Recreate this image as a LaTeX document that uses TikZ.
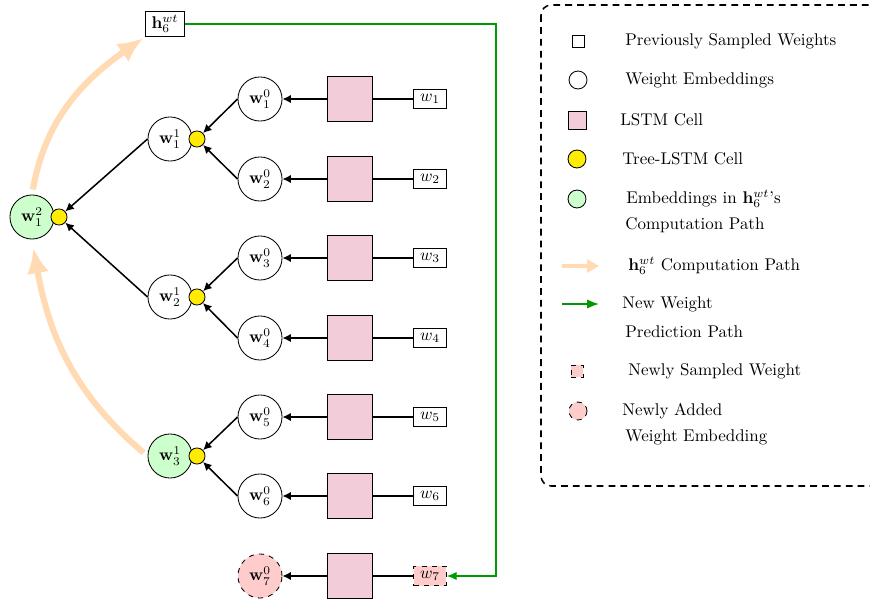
\documentclass[tikz,border=0pt]{standalone}
\usepackage{amsmath}
\usetikzlibrary{arrows.meta}
\definecolor{cPeach}{RGB}{255,218,179}
\definecolor{cLstm}{RGB}{242,204,217}
\definecolor{cEmb}{RGB}{204,255,204}
\definecolor{cNew}{RGB}{255,204,204}
\definecolor{cTree}{RGB}{255,236,0}
\definecolor{cPath}{RGB}{0,153,0}
\begin{document}
\begin{tikzpicture}[x=0.59pt,y=0.59pt,
  embnode/.style={circle,draw,line width=0.5pt,minimum size=26pt,inner sep=0pt},
  treenode/.style={circle,draw,line width=0.5pt,fill=cTree,minimum size=9.5pt,inner sep=0pt},
  lstmnode/.style={rectangle,draw,line width=0.5pt,fill=cLstm,minimum size=26.5pt,inner sep=0pt},
  wbox/.style={rectangle,draw,line width=0.5pt,minimum width=19pt,minimum height=11.5pt,inner sep=0pt},
  edge/.style={draw,line width=0.9pt,-{Latex[length=5pt,width=5pt]}},
  plain/.style={draw,line width=0.9pt},
  opath/.style={draw=cPeach,line width=3.6pt,-{Latex[length=15pt,width=13pt]}},
  gpath/.style={draw=cPath,line width=1pt,-{Latex[length=6pt,width=5pt]}},
  legtext/.style={anchor=west,inner sep=0pt,font=\normalsize},
  legbox/.style={draw,line width=0.9pt,dash pattern=on 4pt off 3pt,rounded corners=6pt}
]
\useasboundingbox (0,0) rectangle (870,-602);

% top output box
\node[rectangle,draw,line width=0.5pt,minimum width=23.5pt,minimum height=15pt,inner sep=1pt] (h) at (165,-24) {$\mathbf{h}_6^{wt}$};

% level 0 rows
\foreach \i/\y in {1/99,2/179,3/258,4/338,5/417,6/496}{
  \node[embnode] (e\i) at (260,-\y) {$\mathbf{w}_{\i}^{0}$};
  \node[lstmnode] (l\i) at (350,-\y) {};
  \node[wbox] (x\i) at (430,-\y) {$w_{\i}$};
  \draw[plain] (x\i) -- (l\i);
  \draw[edge] (l\i) -- (e\i);
}
\node[embnode,fill=cNew,dashed] (e7) at (260,-576) {$\mathbf{w}_{7}^{0}$};
\node[lstmnode] (l7) at (350,-576) {};
\node[wbox,fill=cNew,dashed] (x7) at (430,-576) {$w_{7}$};
\draw[plain] (x7) -- (l7);
\draw[edge] (l7) -- (e7);

% level 1
\node[embnode] (a1) at (170,-139) {$\mathbf{w}_{1}^{1}$};
\node[treenode] (ta1) at (197,-139) {};
\node[embnode] (a2) at (170,-297) {$\mathbf{w}_{2}^{1}$};
\node[treenode] (ta2) at (197,-297) {};
\node[embnode,fill=cEmb] (a3) at (170,-456) {$\mathbf{w}_{3}^{1}$};
\node[treenode] (ta3) at (197,-456) {};

% level 2
\node[embnode,fill=cEmb] (b1) at (32,-217) {$\mathbf{w}_{1}^{2}$};
\node[treenode] (tb1) at (59,-217) {};

\draw[edge] (e1.west) -- (ta1);
\draw[edge] (e2.west) -- (ta1);
\draw[edge] (e3.west) -- (ta2);
\draw[edge] (e4.west) -- (ta2);
\draw[edge] (e5.west) -- (ta3);
\draw[edge] (e6.west) -- (ta3);
\draw[edge] (a1.west) -- (tb1);
\draw[edge] (a2.west) -- (tb1);

% computation path arcs
\draw[opath,shorten <=3pt,shorten >=1pt] (b1.north) to[out=80,in=215] (h.south west);
\draw[opath,shorten <=3pt,shorten >=5pt] (a3.west) to[out=140,in=280] (b1.south);

% new weight prediction path
\coordinate (gd) at (496,-576);
\draw[gpath] (h.east) -| (gd) -- (x7.east);

% legend
\draw[legbox] (541,-5) rectangle (900,-486);
\node[rectangle,draw,line width=0.5pt,minimum size=7pt,inner sep=0pt] (k1) at (578,-41) {};
\node[legtext] (k1t) at (625,-41) {Previously Sampled Weights};
\node[circle,draw,line width=0.5pt,minimum size=10.6pt,inner sep=0pt] (k2) at (578,-80) {};
\node[legtext] (k2t) at (625,-80) {Weight Embeddings};
\node[rectangle,draw,line width=0.5pt,fill=cLstm,minimum size=10.6pt,inner sep=0pt] (k3) at (577,-120) {};
\node[legtext] (k3t) at (620,-120) {LSTM Cell};
\node[circle,draw,line width=0.5pt,fill=cTree,minimum size=10.6pt,inner sep=0pt] (k4) at (577,-159) {};
\node[legtext] (k4t) at (622,-159) {Tree-LSTM Cell};
\node[circle,draw,line width=0.5pt,fill=cEmb,minimum size=10.6pt,inner sep=0pt] (k5) at (577,-199) {};
\node[legtext] (k5t) at (626,-199) {Embeddings in $\mathbf{h}_6^{wt}$'s};
\node[legtext] (k5u) at (625,-225) {Computation Path};
\coordinate (k6a) at (562,-266);
\coordinate (k6b) at (599,-266);
\draw[draw=cPeach,line width=2.4pt,-{Triangle[length=7pt,width=7.5pt]}] (k6a) -- (k6b);
\node[legtext] (k6t) at (628,-266) {$\mathbf{h}_6^{wt}$ Computation Path};
\coordinate (k7a) at (562,-304);
\coordinate (k7b) at (599,-304);
\draw[draw=cPath,line width=1pt,-{Latex[length=7pt,width=5.5pt]}] (k7a) -- (k7b);
\node[legtext] (k7t) at (622,-304) {New Weight};
\node[legtext] (k7u) at (625,-332) {Prediction Path};
\node[rectangle,draw,dashed,line width=0.5pt,fill=cNew,minimum size=7pt,inner sep=0pt] (k8) at (577,-371) {};
\node[legtext] (k8t) at (628,-371) {Newly Sampled Weight};
\node[circle,draw,dashed,line width=0.5pt,fill=cNew,minimum size=10.6pt,inner sep=0pt] (k9) at (578,-411) {};
\node[legtext] (k9t) at (622,-411) {Newly Added};
\node[legtext] (k9u) at (625,-437) {Weight Embedding};
\end{tikzpicture}
\end{document}
